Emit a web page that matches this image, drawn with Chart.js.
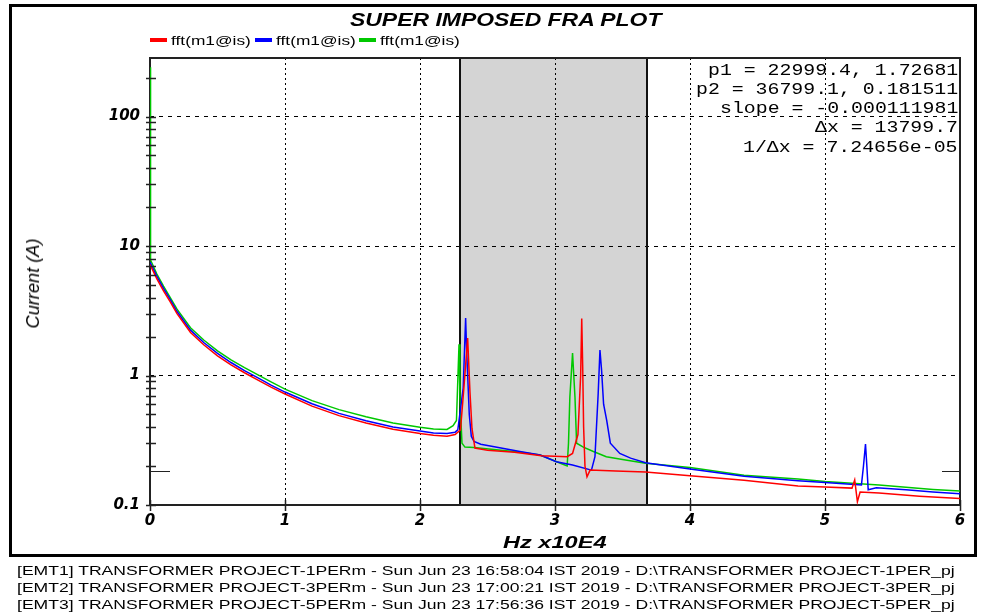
<!DOCTYPE html>
<html>
<head>
<meta charset="utf-8">
<script src="https://cdn.jsdelivr.net/npm/chart.js@4.4.1/dist/chart.umd.min.js"></script>
<style>
html, body { margin: 0; padding: 0; background: #fff; }
#wrap { position: relative; width: 985px; height: 612px; overflow: hidden; }
#frame { position: absolute; left: 9px; top: 4px; width: 968px; height: 553px; border: 3px solid #000; box-sizing: border-box; }
canvas { position: absolute; left: 0; top: 0; }
.t { position: absolute; white-space: nowrap; line-height: 1; transform-origin: 0 50%; color: #000; }
.sw { position: absolute; height: 4px; width: 17px; }
</style>
</head>
<body>
<div id="wrap">
  <div id="frame"></div>
  <canvas id="chart" width="985" height="612"></canvas>
</div>
<script>
// frequency in Hz x10E4, current in A
const redX = [0, 0.05, 0.1, 0.15, 0.2, 0.3, 0.4, 0.5, 0.6, 0.7, 0.8, 0.9, 1.0, 1.2, 1.4, 1.6, 1.8, 2.0, 2.1, 2.2,
  2.26, 2.3, 2.325, 2.353, 2.37, 2.385, 2.407, 2.5, 2.7, 2.9, 3.09, 3.13, 3.17, 3.19, 3.198, 3.205, 3.212, 3.222,
  3.237, 3.26, 3.45, 3.67, 4.0, 4.4, 4.8, 5.0, 5.2, 5.22, 5.24, 5.26, 5.4, 5.7, 6.0];
const redY = [7.2, 5.6, 4.5, 3.7, 3.0, 2.15, 1.72, 1.42, 1.21, 1.05, 0.92, 0.81, 0.72, 0.58, 0.49, 0.43, 0.385, 0.357, 0.345, 0.34,
  0.35, 0.38, 0.8, 1.95, 0.75, 0.39, 0.275, 0.265, 0.255, 0.24, 0.236, 0.25, 0.35, 1.0, 2.75, 1.2, 0.4, 0.2,
  0.165, 0.186, 0.183, 0.18, 0.168, 0.155, 0.14, 0.138, 0.135, 0.156, 0.106, 0.126, 0.124, 0.117, 0.112];

const blueX = [0, 0.05, 0.1, 0.15, 0.2, 0.3, 0.4, 0.5, 0.6, 0.7, 0.8, 0.9, 1.0, 1.2, 1.4, 1.6, 1.8, 2.0, 2.1, 2.2,
  2.26, 2.28, 2.32, 2.338, 2.345, 2.355, 2.365, 2.38, 2.4, 2.45, 2.6, 2.75, 2.89, 3.01, 3.13, 3.27, 3.296, 3.32,
  3.333, 3.345, 3.36, 3.383, 3.41, 3.48, 3.56, 3.67, 4.0, 4.4, 4.8, 5.0, 5.27, 5.285, 5.3, 5.31, 5.32, 5.38,
  5.6, 5.8, 6.0];
const blueY = [7.5, 5.85, 4.7, 3.85, 3.12, 2.24, 1.79, 1.48, 1.26, 1.09, 0.96, 0.84, 0.745, 0.605, 0.51, 0.448, 0.4, 0.372, 0.36, 0.356,
  0.365, 0.38, 0.8, 2.78, 1.6, 0.9, 0.5, 0.34, 0.31, 0.295, 0.275, 0.258, 0.243, 0.216, 0.204, 0.186, 0.236, 0.73,
  1.57, 1.1, 0.6, 0.45, 0.3, 0.25, 0.23, 0.212, 0.19, 0.167, 0.154, 0.149, 0.143, 0.2, 0.296, 0.2, 0.131, 0.136,
  0.131, 0.126, 0.122];

const greenX = [0, 0.004, 0.05, 0.1, 0.15, 0.2, 0.3, 0.4, 0.5, 0.6, 0.7, 0.8, 0.9, 1.0, 1.2, 1.4, 1.6, 1.8, 2.0, 2.1, 2.2,
  2.245, 2.27, 2.289, 2.296, 2.311, 2.333, 2.4, 2.6, 2.75, 2.89, 3.04, 3.09, 3.1, 3.11, 3.13, 3.148, 3.16, 3.21,
  3.28, 3.38, 3.5, 3.67, 4.0, 4.4, 4.8, 5.0, 5.4, 5.8, 6.0];
const greenY = [240, 7.8, 6.1, 4.9, 4.0, 3.25, 2.34, 1.87, 1.55, 1.32, 1.15, 1.01, 0.89, 0.785, 0.64, 0.545, 0.48, 0.43, 0.398, 0.387, 0.383,
  0.41, 0.45, 1.74, 0.67, 0.3, 0.28, 0.278, 0.265, 0.255, 0.243, 0.21, 0.2, 0.3, 0.68, 1.49, 0.68, 0.3, 0.28,
  0.26, 0.236, 0.225, 0.21, 0.195, 0.17, 0.159, 0.152, 0.143, 0.132, 0.128];

const seriesLabels = ['fft(m1@is)', 'fft(m1@is)', 'fft(m1@is)'];
const seriesColors = ['#ff0000', '#0000ff', '#00c800'];

const xTicks = [0, 1, 2, 3, 4, 5, 6];
const xLabels = ['0', '1', '2', '3', '4', '5', '6'];
const yMajor = [0.1, 1, 10, 100];
const yLabels = ['0.1', '1', '10', '100'];
const yMax = 283;

// cursors p1 / p2
const cursorX = [2.29994, 3.67991];
const cursorY = [1.72681, 0.181511];

const titleText = 'SUPER IMPOSED FRA PLOT';
const xTitle = 'Hz x10E4';
const yTitle = 'Current (A)';
const cursorLines = ['p1 = 22999.4, 1.72681', 'p2 = 36799.1, 0.181511', 'slope = -0.000111981', '\u0394x = 13799.7', '1/\u0394x = 7.24656e-05'];
const footerLines = [
  '[EMT1] TRANSFORMER PROJECT-1PERm - Sun Jun 23 16:58:04 IST 2019 - D:\\TRANSFORMER PROJECT-1PER_pj',
  '[EMT2] TRANSFORMER PROJECT-3PERm - Sun Jun 23 17:00:21 IST 2019 - D:\\TRANSFORMER PROJECT-3PER_pj',
  '[EMT3] TRANSFORMER PROJECT-5PERm - Sun Jun 23 17:56:36 IST 2019 - D:\\TRANSFORMER PROJECT-5PER_pj'
];

const yTicks = [];
yMajor.forEach(d => {
  for (let m = 1; m <= 9; m++) {
    const v = m === 1 ? d : d * m;
    if (v <= yMax) yTicks.push(v);
  }
});

const pts = (xs, ys) => xs.map((x, i) => ({ x: x, y: ys[i] }));
const tickFont = { family: 'DejaVu Sans', size: 15, weight: 'bold', style: 'italic' };

// shaded region, cursor lines, frame and tick marks
const decor = {
  id: 'decor',
  beforeDraw(chart) {
    const { ctx, chartArea: a, scales: { x } } = chart;
    const x1 = x.getPixelForValue(cursorX[0]), x2 = x.getPixelForValue(cursorX[1]);
    ctx.save();
    ctx.fillStyle = '#d4d4d4';
    ctx.fillRect(x1, a.top, x2 - x1, a.bottom - a.top);
    ctx.restore();
  },
  beforeDatasetsDraw(chart) {
    const { ctx, chartArea: a, scales: { x, y } } = chart;
    ctx.save();
    ctx.strokeStyle = '#111';
    ctx.lineWidth = 2;
    cursorX.forEach(cx => {
      const px = Math.round(x.getPixelForValue(cx));
      ctx.beginPath();
      ctx.moveTo(px, a.top);
      ctx.lineTo(px, a.bottom);
      ctx.stroke();
    });
    ctx.strokeStyle = '#222';
    ctx.strokeRect(a.left, a.top, a.right - a.left, a.bottom - a.top);
    const py = Math.round(y.getPixelForValue(cursorY[1])) + 0.5;
    ctx.lineWidth = 1;
    ctx.beginPath();
    ctx.moveTo(a.left, py); ctx.lineTo(a.left + 20, py);
    ctx.moveTo(a.right - 18, py); ctx.lineTo(a.right, py);
    ctx.stroke();
    ctx.restore();
  },
  afterDatasetsDraw(chart) {
    const { ctx, chartArea: a, scales: { x, y } } = chart;
    ctx.save();
    ctx.strokeStyle = '#222';
    ctx.lineWidth = 1.5;
    ctx.beginPath();
    yTicks.forEach(v => {
      const py = Math.round(y.getPixelForValue(v)) + 0.5;
      ctx.moveTo(a.left - 4, py);
      ctx.lineTo(a.left + 6, py);
    });
    xTicks.forEach(v => {
      const px = Math.round(x.getPixelForValue(v)) + 0.5;
      ctx.moveTo(px, a.bottom - 5);
      ctx.lineTo(px, a.bottom + 6);
    });
    ctx.stroke();
    ctx.restore();
  }
};

const chart = new Chart(document.getElementById('chart'), {
  type: 'line',
  data: {
    datasets: [
      { label: seriesLabels[0], data: pts(redX, redY), borderColor: seriesColors[0] },
      { label: seriesLabels[1], data: pts(blueX, blueY), borderColor: seriesColors[1] },
      { label: seriesLabels[2], data: pts(greenX, greenY), borderColor: seriesColors[2] }
    ]
  },
  options: {
    responsive: false,
    animation: false,
    devicePixelRatio: 1,
    elements: {
      line: { borderWidth: 1.5, tension: 0, fill: false },
      point: { radius: 0 }
    },
    layout: { padding: { left: 0, top: 58, right: 25, bottom: 0 } },
    plugins: { legend: { display: false }, title: { display: false }, tooltip: { enabled: false } },
    scales: {
      x: {
        type: 'linear',
        min: 0,
        max: 6,
        afterFit: s => { s.height = 107; },
        afterBuildTicks: s => { s.ticks = xTicks.map(v => ({ value: v })); },
        ticks: {
          padding: 7,
          color: '#000',
          font: tickFont,
          maxRotation: 0,
          autoSkip: false,
          callback: v => xLabels[xTicks.indexOf(v)]
        },
        grid: {
          drawTicks: false,
          lineWidth: 1,
          color: c => (c.tick && c.tick.value > 0 && c.tick.value < 6) ? '#000' : 'rgba(0,0,0,0)'
        },
        border: { display: false, dash: [2, 3] }
      },
      y: {
        type: 'logarithmic',
        min: 0.1,
        max: yMax,
        afterFit: s => { s.width = 150; },
        afterBuildTicks: s => { s.ticks = yTicks.map(v => ({ value: v })); },
        ticks: {
          padding: 10,
          color: '#000',
          font: tickFont,
          autoSkip: false,
          callback: v => { const i = yMajor.indexOf(v); return i >= 0 ? yLabels[i] : ''; }
        },
        grid: {
          drawTicks: false,
          lineWidth: 1,
          color: c => (c.tick && yMajor.indexOf(c.tick.value) > 0) ? '#000' : 'rgba(0,0,0,0)'
        },
        border: { display: false, dash: [4, 5] }
      }
    }
  },
  plugins: [decor]
});

// text overlays
const wrap = document.getElementById('wrap');
function addText(str, font, left, cy, width) {
  const el = document.createElement('div');
  el.className = 't';
  el.textContent = str;
  el.style.font = font;
  wrap.appendChild(el);
  const w = el.offsetWidth, h = el.offsetHeight;
  const sx = width ? width / w : 1;
  el.style.left = left + 'px';
  el.style.top = (cy - h / 2) + 'px';
  el.style.transform = 'scaleX(' + sx + ')';
  return { el: el, w: w, h: h, sx: sx };
}

addText(titleText, "italic bold 18px 'Liberation Sans'", 350, 20, 311);

// legend
const legendX = [150, 255, 359];
seriesLabels.forEach((lab, i) => {
  const sw = document.createElement('div');
  sw.className = 'sw';
  sw.style.left = legendX[i] + 'px';
  sw.style.top = '38px';
  sw.style.background = seriesColors[i];
  wrap.appendChild(sw);
  addText(lab, "13px 'Liberation Sans'", legendX[i] + 21, 40, 80);
});

// cursor readout, right aligned
const first = addText(cursorLines[0], "17px 'Liberation Mono'", 0, 70, 250);
first.el.style.left = (958 - 250) + 'px';
const k = first.sx;
cursorLines.slice(1).forEach((s, i) => {
  const r = addText(s, "17px 'Liberation Mono'", 0, 89.3 + i * 19.3, 0);
  r.el.style.transform = 'scaleX(' + k + ')';
  r.el.style.left = (958 - r.w * k) + 'px';
});

addText(xTitle, "italic bold 17px 'Liberation Sans'", 503, 543, 104);

const yt = addText(yTitle, "italic 18px 'Liberation Sans'", 0, 283, 0);
yt.el.style.left = (33 - yt.w / 2) + 'px';
yt.el.style.transformOrigin = '50% 50%';
yt.el.style.transform = 'rotate(-90deg) scaleX(' + (90 / yt.w) + ')';

footerLines.forEach((s, i) => {
  addText(s, "13px 'Liberation Sans'", 17, 570 + i * 17, 938);
});
</script>
</body>
</html>
